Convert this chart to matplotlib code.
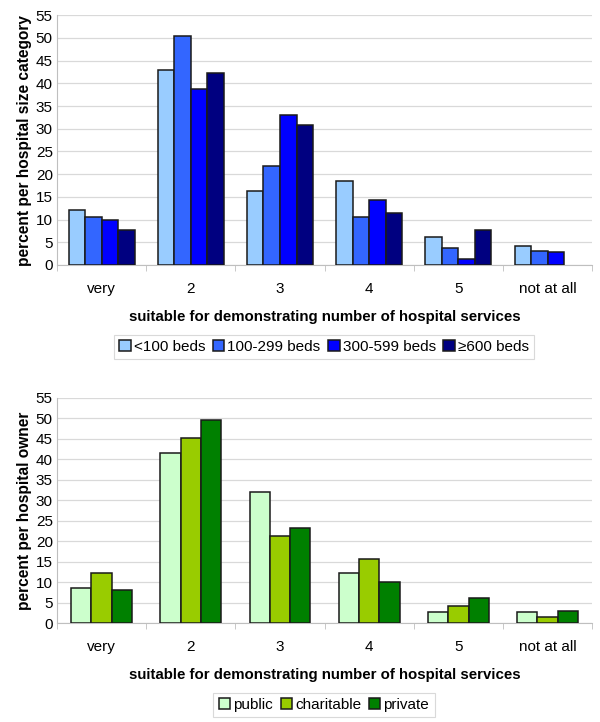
import matplotlib
matplotlib.use("Agg")
import matplotlib.pyplot as plt
import numpy as np

plt.rcParams['font.family'] = ['Liberation Sans', 'DejaVu Sans']

categories = ["very", "2", "3", "4", "5", "not at all"]

size_labels = ["<100 beds", "100-299 beds", "300-599 beds", "≥600 beds"]
size_lt100 = [12.2, 43.0, 16.3, 18.5, 6.1, 4.1]
size_100_299 = [10.5, 50.4, 21.8, 10.5, 3.8, 3.0]
size_300_599 = [10.0, 38.7, 33.0, 14.3, 1.4, 2.9]
size_ge600 = [7.7, 42.3, 30.9, 11.5, 7.7, float("nan")]

owner_labels = ["public", "charitable", "private"]
owner_public = [8.5, 41.5, 32.1, 12.3, 2.8, 2.8]
owner_charitable = [12.3, 45.1, 21.3, 15.6, 4.1, 1.6]
owner_private = [8.1, 49.5, 23.2, 10.1, 6.1, 3.0]

size_colors = ["#99CCFF", "#3366FF", "#0000FF", "#000080"]
owner_colors = ["#CCFFCC", "#99CC00", "#008000"]

fig = plt.figure(figsize=(6.0, 7.22), dpi=100)

def draw(ax, series, labels, colors, ylabel, group_w, legend_y):
    n = len(series)
    x = np.arange(len(categories))
    w = group_w / n
    handles = []
    for i, (vals, lab, col) in enumerate(zip(series, labels, colors)):
        offs = (i - (n - 1) / 2) * w
        h = ax.bar(x + offs, vals, width=w, color=col, edgecolor="#1a1a1a",
                   linewidth=1.1, label=lab, zorder=3)
        handles.append(h)
    ax.set_xlim(-0.5, len(categories) - 0.5)
    ax.set_ylim(0, 55)
    ax.set_yticks(np.arange(0, 56, 5))
    ax.yaxis.grid(True, color="#D9D9D9", linewidth=0.9, zorder=0)
    ax.set_axisbelow(True)
    for s in ["top", "right"]:
        ax.spines[s].set_visible(False)
    ax.spines["left"].set_color("#BFBFBF")
    ax.spines["bottom"].set_color("#BFBFBF")
    ax.set_xticks(x)
    ax.set_xticklabels(categories)
    ax.set_xticks(np.arange(-0.5, len(categories) + 0.5, 1), minor=True)
    ax.tick_params(axis="x", which="major", length=0, pad=12, labelsize=11)
    ax.tick_params(axis="x", which="minor", length=4, color="#BFBFBF")
    ax.tick_params(axis="y", length=0, pad=3, labelsize=11)
    ax.set_ylabel(ylabel, fontsize=11.2, fontweight="bold", labelpad=3)
    ax.set_xlabel("suitable for demonstrating number of hospital services",
                  fontsize=10.8, fontweight="bold", labelpad=10)
    leg = fig.legend(handles=handles, loc="center", bbox_to_anchor=(0.54, legend_y),
                     ncol=n, frameon=True, fancybox=False, fontsize=11,
                     handlelength=0.75, handleheight=0.75, handletextpad=0.2,
                     columnspacing=0.5, borderpad=0.35, edgecolor="#D0D0D0")
    leg.get_frame().set_linewidth(0.8)

ax1 = fig.add_axes([0.095, 0.633, 0.892, 0.346])
draw(ax1, [size_lt100, size_100_299, size_300_599, size_ge600], size_labels,
     size_colors, "percent per hospital size category", 0.74, 1 - 347 / 722)

ax2 = fig.add_axes([0.095, 0.137, 0.892, 0.312])
draw(ax2, [owner_public, owner_charitable, owner_private], owner_labels,
     owner_colors, "percent per hospital owner", 0.68, 1 - 705 / 722)

fig.savefig("out.png", dpi=100)
